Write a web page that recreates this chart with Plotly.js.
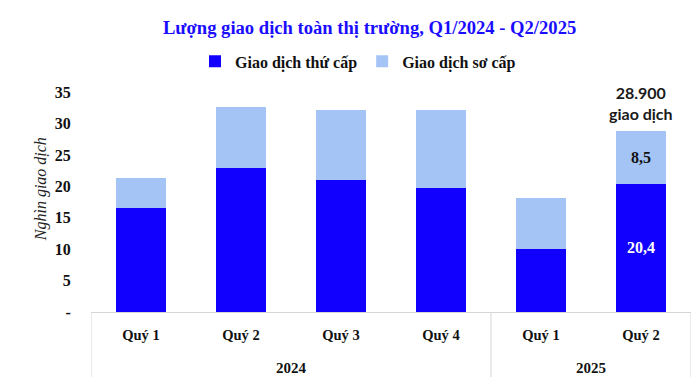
<!DOCTYPE html>
<html>
<head>
<meta charset="utf-8">
<script src="https://cdn.plot.ly/plotly-3.0.1.min.js"></script>
<style>html,body{margin:0;padding:0;background:#fff;}#chart{width:700px;height:377px;}</style>
</head>
<body>
<div id="chart"></div>
<script>
const years = ['2024', '2024', '2024', '2024', '2025', '2025'];
const quarters = ['Quý 1', 'Quý 2', 'Quý 3', 'Quý 4', 'Quý 1', 'Quý 2'];
const seriesNames = ['Giao dịch thứ cấp', 'Giao dịch sơ cấp'];
const secondary = [16.6, 23.0, 21.1, 19.7, 10.1, 20.4];
const primary = [4.7, 9.7, 11.0, 12.4, 8.1, 8.5];
const yTickVals = [0, 5, 10, 15, 20, 25, 30, 35];
const yTickText = ['-', '5', '10', '15', '20', '25', '30', '35'];
const labelIndex = 5;

const fmt = v => v.toFixed(1).replace('.', ',');
const serif = 'Liberation Serif, Times New Roman, serif';
const idx = quarters.map((_, i) => i);

const total = secondary[labelIndex] + primary[labelIndex];
const totalText = Math.round(total * 1000).toLocaleString('de-DE') + '<br>giao dịch';

// year groups derived from the years array
const groups = [];
years.forEach((y, i) => {
  const g = groups[groups.length - 1];
  if (g && g.name === y) g.end = i; else groups.push({name: y, start: i, end: i});
});

const gridColor = '#d6d6d6';
const shapes = [];
const bounds = new Set();
groups.forEach(g => { bounds.add(g.start - 0.5); bounds.add(g.end + 0.5); });
bounds.forEach(b => shapes.push({
  type: 'line', xref: 'x', yref: 'paper', x0: b, x1: b, y0: 0, y1: -0.3,
  line: {color: gridColor, width: 1}
}));

const yearAnnots = groups.map(g => ({
  text: '<b>' + g.name + '</b>', xref: 'x', yref: 'paper',
  x: (g.start + g.end) / 2, y: -0.241, xanchor: 'center', yanchor: 'middle',
  showarrow: false, font: {family: serif, size: 15, color: '#111111'}
}));

const traces = [
  {
    type: 'bar', name: '<b>' + seriesNames[0] + '</b>',
    x: idx, y: secondary,
    marker: {color: '#1200ff'},
    text: secondary.map((v, i) => i === labelIndex ? '<b>' + fmt(v) + '</b>' : ''),
    textposition: 'inside', insidetextanchor: 'middle',
    textfont: {family: serif, size: 16, color: '#ffffff'},
    hoverinfo: 'none'
  },
  {
    type: 'bar', name: '<b>' + seriesNames[1] + '</b>',
    x: idx, y: primary,
    marker: {color: '#a4c4f6'},
    text: primary.map((v, i) => i === labelIndex ? '<b>' + fmt(v) + '</b>' : ''),
    textposition: 'inside', insidetextanchor: 'middle',
    textfont: {family: serif, size: 16, color: '#111111'},
    hoverinfo: 'none'
  }
];

const layout = {
  width: 700, height: 377,
  margin: {l: 91, r: 9, t: 80, b: 65},
  paper_bgcolor: '#ffffff', plot_bgcolor: '#ffffff',
  barmode: 'stack', bargap: 0.5,
  showlegend: true,
  title: {
    text: '<b>Lượng giao dịch toàn thị trường, Q1/2024 - Q2/2025</b>',
    font: {family: serif, size: 18.6, color: '#1a0dff'},
    x: 0.528, xanchor: 'center', y: 0.927, yanchor: 'middle'
  },
  legend: {
    orientation: 'h', x: 0.445, xanchor: 'center', y: 1.08, yref: 'paper', yanchor: 'middle',
    font: {family: serif, size: 16, color: '#111111'},
    itemwidth: 30, traceorder: 'normal'
  },
  xaxis: {
    tickvals: idx, ticktext: quarters.map(q => '<b>' + q + '</b>'),
    showline: true, linecolor: gridColor, linewidth: 1,
    ticks: 'outside', ticklen: 10, tickcolor: 'rgba(0,0,0,0)',
    showgrid: false, zeroline: false,
    tickfont: {family: serif, size: 14.5, color: '#111111'},
    range: [-0.5, 5.5]
  },
  yaxis: {
    range: [0, 36.95],
    tickvals: yTickVals, ticktext: yTickText.map(t => '<b>' + t + '</b>'),
    showgrid: false, zeroline: false, showline: false,
    ticks: 'outside', ticklen: 16, tickcolor: 'rgba(0,0,0,0)',
    tickfont: {family: serif, size: 16, color: '#111111'}
  },
  shapes: shapes,
  annotations: [
    {
      text: '<i>Nghìn giao dịch</i>', textangle: -90,
      xref: 'paper', yref: 'paper', x: -0.083, y: 0.53,
      xanchor: 'center', yanchor: 'middle', showarrow: false,
      font: {family: serif, size: 16, color: '#222222'}
    },
    {
      text: '<b>' + totalText + '</b>',
      x: labelIndex, y: total, xref: 'x', yref: 'y',
      xanchor: 'center', yanchor: 'bottom', yshift: 6, showarrow: false,
      font: {family: 'Lato, Open Sans, sans-serif', size: 16, color: '#1a1a1a'}
    }
  ].concat(yearAnnots)
};

Plotly.newPlot('chart', traces, layout, {displayModeBar: false, staticPlot: true});
</script>
</body>
</html>
